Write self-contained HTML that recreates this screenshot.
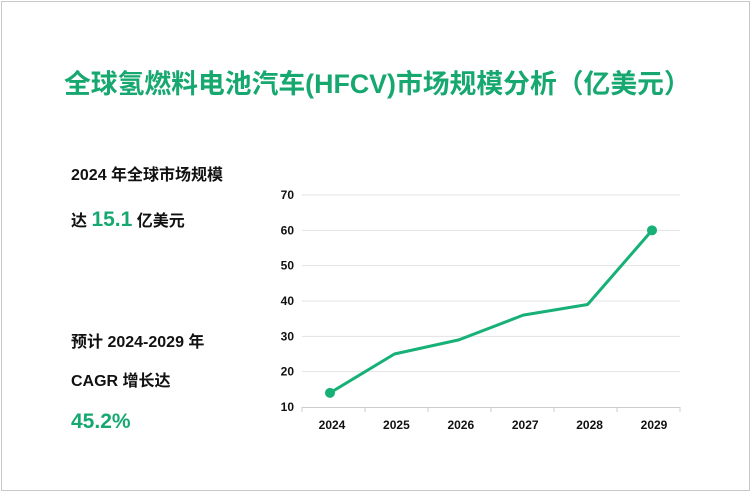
<!DOCTYPE html>
<html><head><meta charset="utf-8"><style>
body{margin:0;width:751px;height:492px;background:#fff;font-family:"Liberation Sans","Noto Sans CJK SC",sans-serif;overflow:hidden}
.frame{position:absolute;left:1px;top:1px;width:747px;height:488px;border:1px solid #c8c8c8}
.t{position:absolute;white-space:nowrap}
</style></head><body>
<div class="frame"></div>
<div class="t" style="left:64px;top:62px;font-size:26.8px;font-weight:bold;color:#17a870">全球氢燃料电池汽车(HFCV)市场规模分析（亿美元）</div>
<div class="t" style="left:71px;top:161px;font-size:16px;font-weight:bold;color:#111">2024 年全球市场规模</div>
<div class="t" style="left:71px;top:207px;font-size:16px;font-weight:bold;color:#111">达 <span style="font-size:21px;color:#17a870">15.1</span> 亿美元</div>
<div class="t" style="left:71px;top:328px;font-size:16px;font-weight:bold;color:#111">预计 2024-2029 年</div>
<div class="t" style="left:71px;top:367px;font-size:16px;font-weight:bold;color:#111">CAGR 增长达</div>
<div class="t" style="left:71px;top:410px;font-size:21px;font-weight:bold;color:#17a870">45.2%</div>
<svg id="c" width="751" height="492" style="position:absolute;left:0;top:0"></svg>
<script>
const years=["2024","2025","2026","2027","2028","2029"];
const values=[14,25,29,36,39,60];
const yTicks=[10,20,30,40,50,60,70];
const ns="http://www.w3.org/2000/svg",svg=document.getElementById('c');
const y=v=>407-(v-10)*(212/60);
const x=i=>330+i*64.4;
function mk(t,a){const e=document.createElementNS(ns,t);for(const k in a)e.setAttribute(k,a[k]);svg.appendChild(e);return e;}
yTicks.forEach(v=>{
 if(v>10){const g=mk('line',{x1:302,x2:680,y1:y(v),y2:y(v),stroke:'#e3e3e3','stroke-width':1});
 
 }
 const t=mk('text',{x:294,y:y(v)+4,'text-anchor':'end','font-size':12,'font-weight':'bold',fill:'#111','font-family':'Liberation Sans'});t.textContent=v;
 
 
});
const ax=mk('line',{x1:302,x2:680,y1:407.5,y2:407.5,stroke:'#ccc'});


for(let i=0;i<=6;i++){const tk=mk('line',{x1:302+i*63,x2:302+i*63,y1:407,y2:412,stroke:'#ccc'});
 
 }
years.forEach((yr,i)=>{const t=mk('text',{x:x(i)+2,y:429,'text-anchor':'middle','font-size':12,'font-weight':'bold',fill:'#111','font-family':'Liberation Sans'});t.textContent=yr;
 
 });
const p=mk('polyline',{points:values.map((v,i)=>x(i)+','+y(v)).join(' '),fill:'none',stroke:'#17b077','stroke-width':3,'stroke-linejoin':'round'});


[0,values.length-1].forEach(i=>{const c=mk('circle',{cx:x(i),cy:y(values[i]),r:5,fill:'#17b077'});
 
 });
</script>
</body></html>
